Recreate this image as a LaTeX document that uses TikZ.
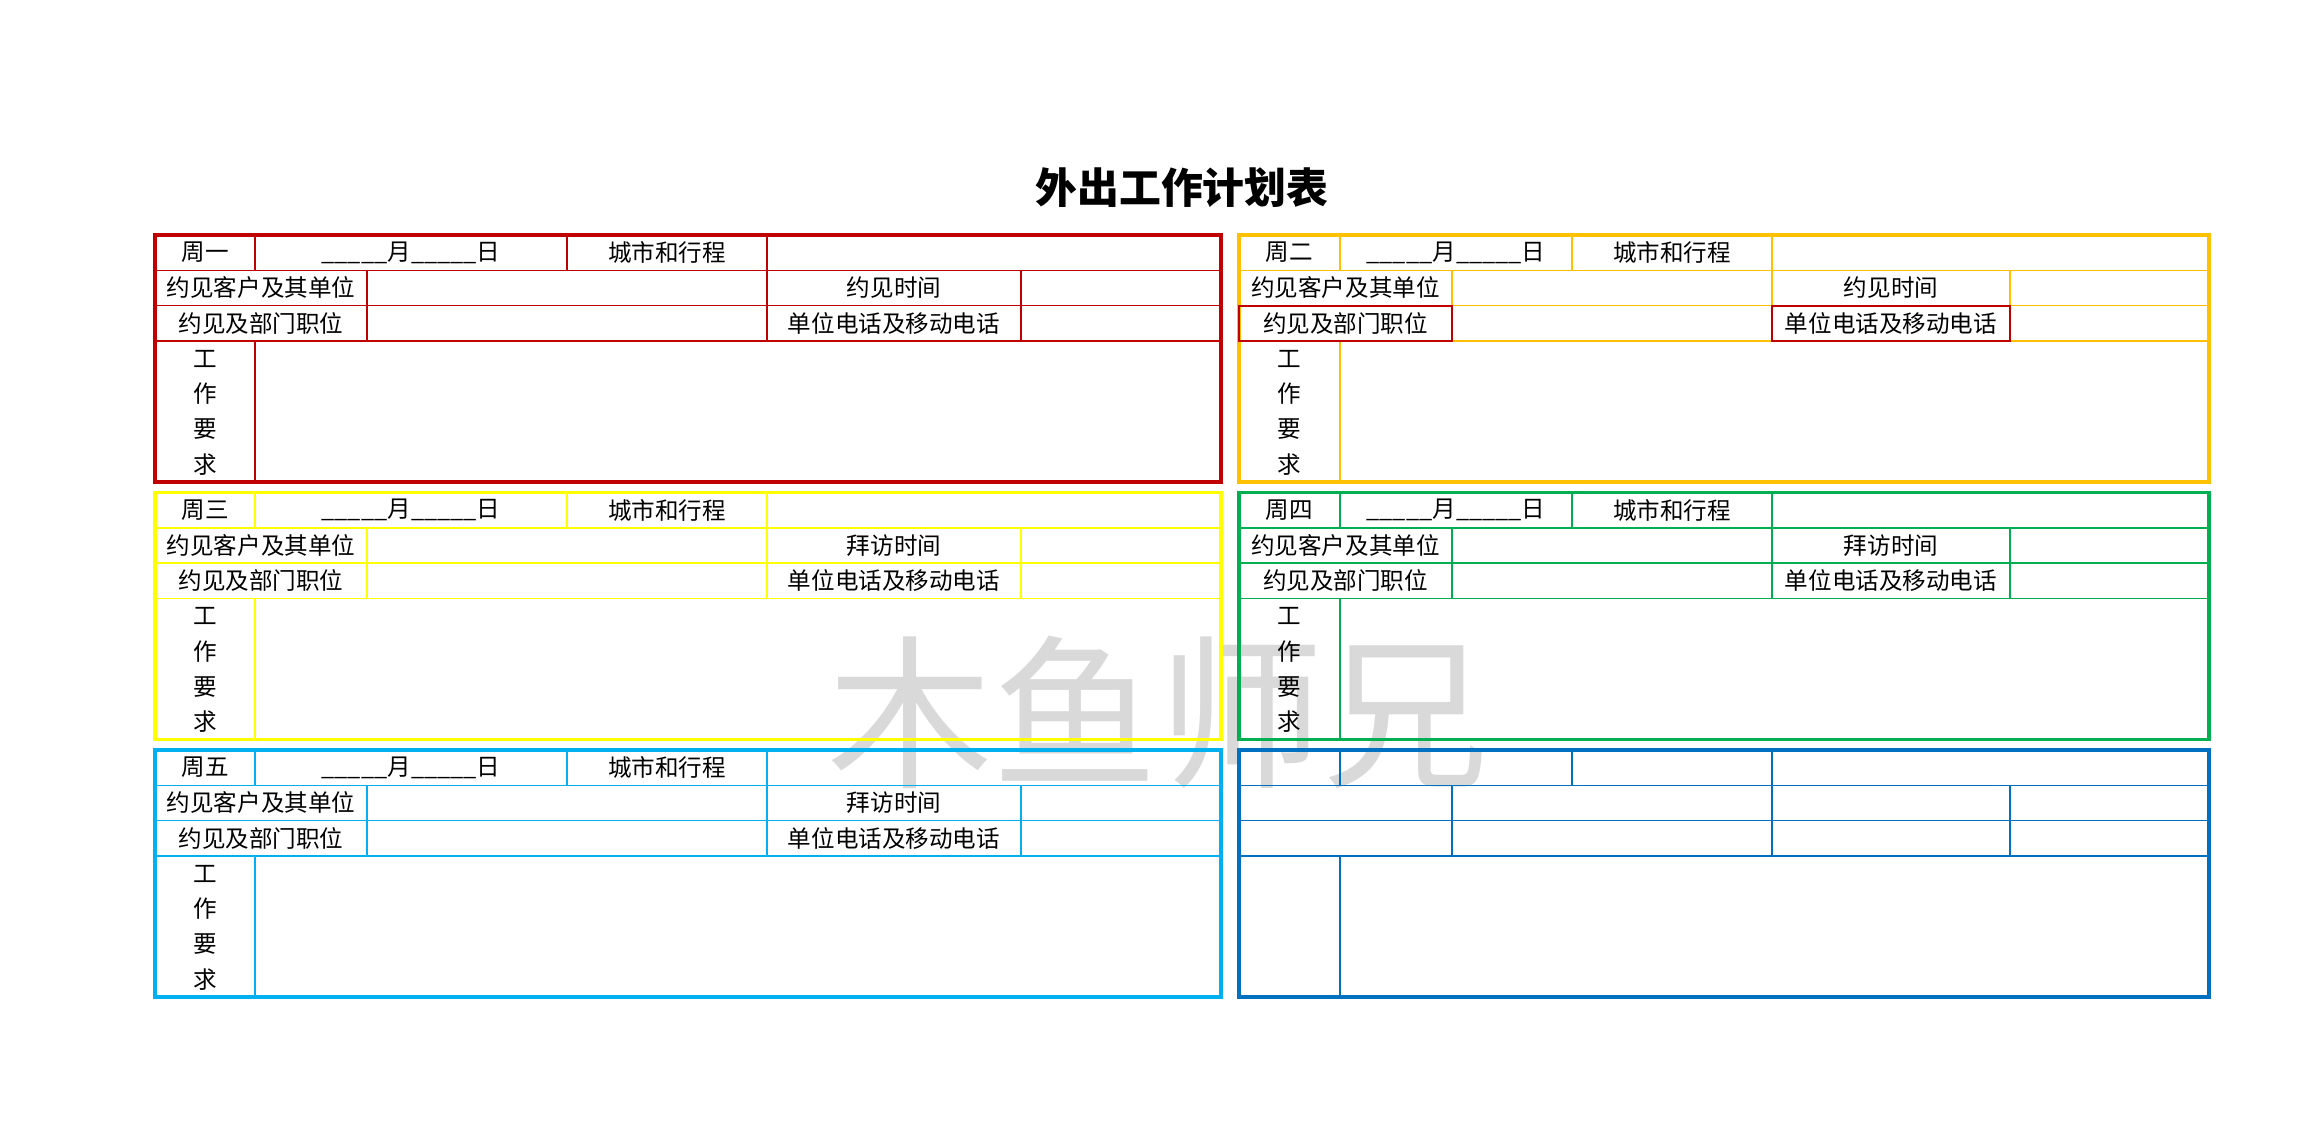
\documentclass[tikz,border=0pt]{standalone}
\usepackage{fontspec}
\setmainfont{Noto Sans CJK SC}
\usepackage{xcolor}
\definecolor{dayred}{HTML}{C00000}
\definecolor{dayorange}{HTML}{FFC000}
\definecolor{dayyellow}{HTML}{FFFF00}
\definecolor{daygreen}{HTML}{00B050}
\definecolor{daysky}{HTML}{00B0F0}
\definecolor{dayblue}{HTML}{0070C0}
\definecolor{markgray}{HTML}{D9D9D9}

\begin{document}
\begin{tikzpicture}[x=0.01cm, y=-0.01cm,
    frame/.style={line width=0.9pt},
    rule/.style={line width=0.45pt},
    cell/.style={font=\fontsize{6.7}{7}\selectfont, inner sep=0pt}]

    % Fix the page size
    \useasboundingbox (0,0) rectangle (2321,1147);

    % Draw the watermark behind the tables
    \node[text=markgray, font=\fontsize{47}{47}\selectfont] (mark) at (1158,712) {木鱼师兄};

    % Draw the title
    \node[font=\fontsize{11.9}{12}\selectfont\bfseries] (title) at (1182,188) {外出工作计划表};

    % Draw the grid of each day panel
    \foreach \px/\pa/\pb/\pc/\pd/\pe/\pf/\py/\pcol in {
        155/255/367/567/767/1021/1221/235/dayred,
        1239/1340/1452/1572/1772/2010/2209/235/dayorange,
        155/255/367/567/767/1021/1221/492.5/dayyellow,
        1239/1340/1452/1572/1772/2010/2209/492.5/daygreen,
        155/255/367/567/767/1021/1221/750/daysky,
        1239/1340/1452/1572/1772/2010/2209/750/dayblue}
    {
        \foreach \r in {1,2,3}
            \draw[rule, \pcol] (\px,{\py+35.3*\r}) -- (\pf,{\py+35.3*\r});
        \draw[rule, \pcol] (\pa,\py) -- (\pa,{\py+35.3});
        \draw[rule, \pcol] (\pa,{\py+105.9}) -- (\pa,{\py+247});
        \draw[rule, \pcol] (\pb,{\py+35.3}) -- (\pb,{\py+105.9});
        \draw[rule, \pcol] (\pc,\py) -- (\pc,{\py+35.3});
        \draw[rule, \pcol] (\pd,\py) -- (\pd,{\py+105.9});
        \draw[rule, \pcol] (\pe,{\py+35.3}) -- (\pe,{\py+105.9});
        \draw[frame, \pcol] (\px,\py) rectangle (\pf,{\py+247});
    }

    % Mark two cells of the Tuesday panel in red
    \draw[dayred, line width=0.6pt] (1239,305.6) rectangle (1452,340.9);
    \draw[dayred, line width=0.6pt] (1772,305.6) rectangle (2010,340.9);

    % Add the labels of the panels
    \foreach \pn/\px/\pa/\pb/\pc/\pd/\pe/\py/\pday/\ptime in {
        mon/155/255/367/567/767/1021/235/周一/约见时间,
        tue/1239/1340/1452/1572/1772/2010/235/周二/约见时间,
        wed/155/255/367/567/767/1021/492.5/周三/拜访时间,
        thu/1239/1340/1452/1572/1772/2010/492.5/周四/拜访时间,
        fri/155/255/367/567/767/1021/750/周五/拜访时间}
    {
        \node[cell] (\pn-day) at ({(\px+\pa)/2},{\py+17.65}) {\pday};
        \node[cell] (\pn-date) at ({(\pa+\pc)/2},{\py+17.65}) {\_\_\_\_\_月\_\_\_\_\_日};
        \node[cell] (\pn-city) at ({(\pc+\pd)/2},{\py+17.65}) {城市和行程};
        \node[cell] (\pn-client) at ({(\px+\pb)/2},{\py+52.95}) {约见客户及其单位};
        \node[cell] (\pn-time) at ({(\pd+\pe)/2},{\py+52.95}) {\ptime};
        \node[cell] (\pn-post) at ({(\px+\pb)/2},{\py+88.25}) {约见及部门职位};
        \node[cell] (\pn-phone) at ({(\pd+\pe)/2},{\py+88.25}) {单位电话及移动电话};
        \foreach \ch [count=\k] in {工,作,要,求}
            \node[cell] (\pn-req\k) at ({(\px+\pa)/2},{\py+105.9+35.3*(\k-0.5)}) {\ch};
    }
\end{tikzpicture}
\end{document}
